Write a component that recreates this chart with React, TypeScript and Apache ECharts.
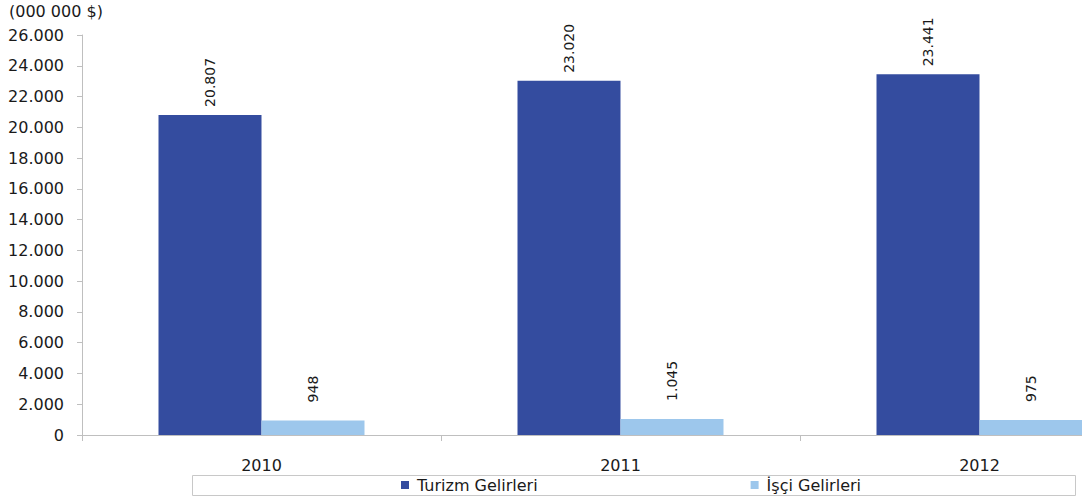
import React, { useEffect, useRef } from "react";
import * as echarts from "echarts";

const years = ["2010", "2011", "2012"];
const tourism = [20807, 23020, 23441];
const workers = [948, 1045, 975];
const seriesNames = ["Turizm Gelirleri", "İşçi Gelirleri"];
const unitLabel = "(000 000 $)";

const fmt = (v: number) => {
  const s = String(Math.round(v));
  return s.replace(/\B(?=(\d{3})+(?!\d))/g, ".");
};

const FONT = "DejaVu Sans";
const TEXT = "#1a1a1a";

export default function App() {
  const ref = useRef<HTMLDivElement>(null);
  useEffect(() => {
    if (!ref.current) return;
    const chart = echarts.init(ref.current, undefined, { renderer: "svg" });
    chart.setOption({
      animation: false,
      backgroundColor: "#ffffff",
      grid: { left: 82, right: 0, top: 35, bottom: 66, containLabel: false },
      graphic: [
        {
          type: "text",
          left: 9,
          top: 3,
          style: { text: unitLabel, fill: TEXT, font: `16px "${FONT}"` },
        },
        {
          type: "rect",
          shape: { x: 192.5, y: 475.5, width: 883, height: 20 },
          style: { fill: "none", stroke: "#c8c8c8", lineWidth: 1 },
        },
      ],
      legend: {
        left: 401,
        top: 477,
        padding: 0,
        itemWidth: 8,
        itemHeight: 8,
        itemGap: 213,
        icon: "rect",
        textStyle: { fontFamily: FONT, fontSize: 16, color: TEXT, padding: [0, 0, 0, 3] },
        data: seriesNames,
      },
      xAxis: {
        type: "category",
        data: years,
        axisLine: { lineStyle: { color: "#bfbfbf" } },
        axisTick: { show: true, length: 6, lineStyle: { color: "#bfbfbf" } },
        axisLabel: { margin: 22, fontFamily: FONT, fontSize: 16, color: TEXT },
      },
      yAxis: {
        type: "value",
        min: 0,
        max: 26000,
        interval: 2000,
        splitLine: { show: false },
        axisLine: { show: true, lineStyle: { color: "#bfbfbf" } },
        axisTick: { show: true, length: 5, lineStyle: { color: "#bfbfbf" } },
        axisLabel: {
          margin: 18,
          fontFamily: FONT,
          fontSize: 16,
          color: TEXT,
          formatter: (v: number) => fmt(v),
        },
      },
      series: [
        {
          name: seriesNames[0],
          type: "bar",
          data: tourism,
          barWidth: 103,
          barGap: "0%",
          itemStyle: { color: "#344c9f" },
          label: {
            show: true,
            position: "top",
            distance: 8,
            rotate: 90,
            align: "left",
            verticalAlign: "middle",
            fontFamily: FONT,
            fontSize: 14,
            color: TEXT,
            formatter: (p: any) => fmt(p.value),
          },
        },
        {
          name: seriesNames[1],
          type: "bar",
          data: workers,
          barWidth: 103,
          barGap: "0%",
          itemStyle: { color: "#9dc7ec" },
          label: {
            show: true,
            position: "top",
            distance: 18,
            rotate: 90,
            align: "left",
            verticalAlign: "middle",
            fontFamily: FONT,
            fontSize: 14,
            color: TEXT,
            formatter: (p: any) => fmt(p.value),
          },
        },
      ],
    });
    return () => chart.dispose();
  }, []);
  return (
    <div
      style={{
        position: "absolute",
        left: 0,
        top: 0,
        width: 1082,
        height: 501,
        overflow: "hidden",
      }}
    >
      <div ref={ref} style={{ width: 1159, height: 501 }} />
    </div>
  );
}
